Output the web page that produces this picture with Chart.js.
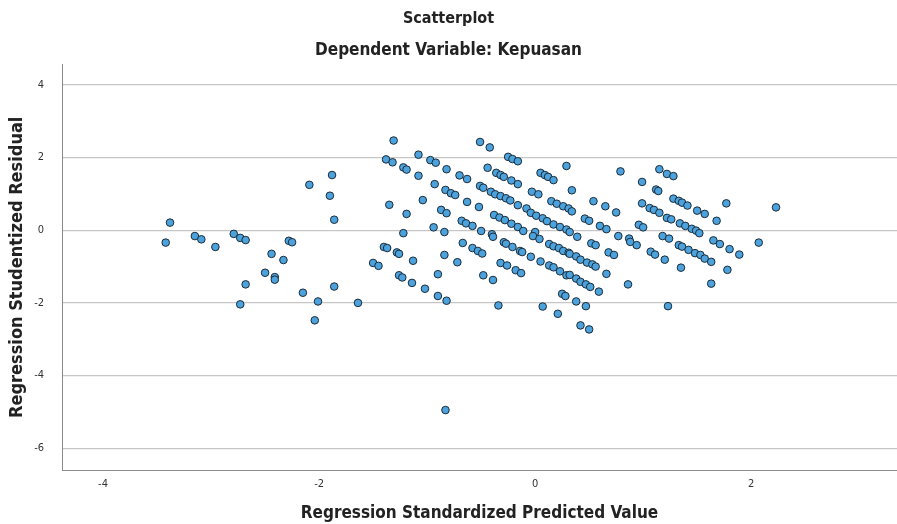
<!DOCTYPE html>
<html>
<head>
<meta charset="utf-8">
<script src="https://cdn.jsdelivr.net/npm/chart.js@4/dist/chart.umd.min.js"></script>
<style>
html,body{margin:0;padding:0;background:#fff;}
#c{display:block;}
</style>
</head>
<body>
<canvas id="c" width="897" height="524"></canvas>
<script>
const chartTitle = 'Scatterplot';
const chartSubtitle = 'Dependent Variable: Kepuasan';
const xAxisTitle = 'Regression Standardized Predicted Value';
const yAxisTitle = 'Regression Studentized Residual';
const xTicks = [-4, -2, 0, 2];
const yTicks = [-6, -4, -2, 0, 2, 4];

const predicted = [
-3.38,-3.42,-3.15,-3.09,-2.96,-2.79,-2.73,-2.68,-2.28,-2.25,-2.44,-2.33,-2.50,-2.41,-2.41,-2.68,-2.73,-2.15,-2.01,-2.04,-1.86,-1.64,-2.09,-1.88,-1.90,-1.86,
-1.31,-1.38,-1.32,-1.08,-0.97,-0.92,-1.22,-1.19,-1.08,-0.82,-0.70,-0.63,-0.93,-0.83,-0.78,-0.74,-0.63,-1.04,-1.35,-1.19,-0.87,-0.82,-0.68,-0.64,-0.94,-1.22,-0.84,
-0.67,-1.40,-1.37,-1.28,-1.26,-1.13,-0.84,-0.72,-1.50,-1.45,-1.26,-1.23,-1.14,-1.02,-0.90,-0.90,-0.82,
-0.83,
-0.51,-0.42,-0.25,-0.21,-0.16,0.29,-0.44,-0.36,-0.32,-0.29,-0.22,-0.16,0.05,0.09,0.12,0.17,-0.51,-0.48,-0.41,-0.37,-0.32,-0.27,-0.23,-0.16,-0.08,-0.03,0.03,0.15,0.20,0.26,0.31,
-0.52,-0.38,-0.33,-0.28,-0.22,-0.16,-0.04,0.01,0.07,0.11,0.17,0.23,0.29,-0.58,-0.50,-0.40,-0.11,0.00,
-0.39,-0.29,-0.27,-0.21,-0.14,-0.12,-0.02,0.04,0.13,0.17,0.22,0.26,0.31,-0.58,-0.53,-0.49,-0.04,0.05,0.13,0.17,0.23,0.29,-0.32,-0.26,-0.18,-0.13,-0.48,-0.39,0.25,0.28,-0.34,0.07,0.21,
0.79,1.15,1.22,0.99,1.12,1.14,0.34,0.54,0.65,0.75,0.99,1.06,1.10,1.15,1.22,0.34,0.46,0.50,0.60,0.66,0.77,0.87,0.96,1.00,1.18,0.32,0.39,
0.88,0.94,0.52,0.56,0.68,0.73,1.07,1.11,1.20,1.24,0.32,0.38,0.42,0.48,0.53,0.56,0.32,0.38,0.42,0.47,0.51,0.66,0.59,0.86,0.38,0.47,1.23,0.42,0.50,
1.28,1.28,1.33,1.36,1.41,1.50,1.57,1.77,1.68,2.23,1.26,1.34,1.39,1.45,1.49,1.52,1.33,1.36,1.42,1.48,1.53,1.57,1.63,1.65,1.71,1.80,1.89,2.07,1.35,1.78,1.63
];
const residual = [
0.21,-0.34,-0.16,-0.25,-0.46,-0.10,-0.21,-0.27,-0.29,-0.33,-0.65,-0.82,-1.17,-1.29,-1.36,-1.49,-2.04,-1.72,-1.96,-2.48,-1.55,-2.00,1.25,1.52,0.95,0.29,
2.47,1.95,1.87,2.08,1.93,1.86,1.73,1.67,1.50,1.68,1.51,1.41,1.27,1.11,1.02,0.97,0.78,0.83,0.70,0.45,0.56,0.47,0.26,0.19,0.08,-0.08,-0.05,
-0.35,-0.46,-0.49,-0.61,-0.65,-0.84,-0.68,-0.88,-0.90,-0.98,-1.24,-1.30,-1.45,-1.61,-1.21,-1.81,-1.94,
-4.95,
2.43,2.28,2.02,1.96,1.90,1.77,1.72,1.58,1.52,1.47,1.37,1.27,1.58,1.52,1.47,1.38,1.22,1.17,1.06,0.99,0.94,0.88,0.82,0.69,0.60,1.06,0.99,0.80,0.73,0.66,0.60,
0.64,0.42,0.35,0.28,0.18,0.09,0.48,0.40,0.33,0.25,0.16,0.09,0.02,0.12,-0.02,-0.11,-0.02,-0.05,
-0.18,-0.33,-0.37,-0.46,-0.57,-0.60,-0.16,-0.24,-0.38,-0.44,-0.49,-0.57,-0.62,-0.49,-0.57,-0.64,-0.73,-0.86,-0.97,-1.02,-1.13,-1.24,-0.90,-0.97,-1.10,-1.18,-1.24,-1.37,-1.75,-1.81,-2.07,-2.10,-2.30,
1.62,1.68,1.55,1.33,1.12,1.08,1.10,0.80,0.66,0.49,0.74,0.61,0.56,0.48,0.34,0.52,0.32,0.26,0.12,0.03,-0.16,-0.23,0.15,0.08,-0.16,-0.05,-0.18,
-0.32,-0.41,-0.36,-0.41,-0.61,-0.68,-0.59,-0.67,-0.81,-0.23,-0.65,-0.72,-0.81,-0.89,-0.94,-1.00,-1.23,-1.33,-1.42,-1.49,-1.56,-1.20,-1.69,-1.49,-1.96,-2.09,-2.09,-2.62,-2.73,
1.49,0.87,0.81,0.76,0.68,0.54,0.45,0.74,0.26,0.63,0.30,0.19,0.12,0.04,-0.01,-0.08,-0.41,-0.45,-0.54,-0.63,-0.68,-0.78,-0.87,-0.28,-0.38,-0.52,-0.67,-0.34,-1.03,-1.09,-1.47
];

const points = predicted.map((x, i) => ({x: x, y: residual[i]}));
const FONT = '"DejaVu Sans Condensed", "Liberation Sans Narrow", "Open Sans", sans-serif';

new Chart(document.getElementById('c'), {
  type: 'scatter',
  data: {
    datasets: [{
      data: points,
      pointRadius: 3.8,
      pointHoverRadius: 3.8,
      borderWidth: 1,
      backgroundColor: '#4ba2dc',
      borderColor: '#1b2b38'
    }]
  },
  options: {
    responsive: false,
    devicePixelRatio: 1,
    animation: false,
    layout: {autoPadding: false, padding: {left: 0, right: 0, top: 0, bottom: 0}},
    plugins: {
      legend: {display: false},
      tooltip: {enabled: false},
      title: {
        display: true,
        text: chartTitle,
        color: '#222',
        font: {family: FONT, size: 16, weight: 'bold', lineHeight: 1.2},
        padding: {top: 9, bottom: 5}
      },
      subtitle: {
        display: true,
        text: chartSubtitle,
        color: '#222',
        font: {family: FONT, size: 17, weight: 'bold', lineHeight: 1.2},
        padding: {top: 7, bottom: 4}
      }
    },
    scales: {
      x: {
        type: 'linear',
        min: -4.38,
        max: 3.35,
        afterBuildTicks: (s) => { s.ticks = xTicks.map(v => ({value: v})); },
        afterFit: (s) => { s.height = 54; s.paddingLeft = 0; s.paddingRight = 0; },
        grid: {display: false, drawTicks: false},
        border: {display: true, color: '#8a8a8a', width: 1},
        ticks: {color: '#333', padding: 8, font: {family: FONT, size: 11}},
        title: {
          display: true,
          text: xAxisTitle,
          color: '#222',
          font: {family: FONT, size: 17, weight: 'bold', lineHeight: 1.2},
          padding: {top: 2, bottom: 0}
        }
      },
      y: {
        type: 'linear',
        min: -6.6,
        max: 4.56,
        afterBuildTicks: (s) => { s.ticks = yTicks.map(v => ({value: v})); },
        afterFit: (s) => { s.width = 62; },
        grid: {display: true, drawTicks: false, color: '#c6c6c6', lineWidth: 1.2},
        border: {display: true, color: '#8a8a8a', width: 1},
        ticks: {color: '#333', padding: 18, font: {family: FONT, size: 11}},
        title: {
          display: true,
          text: yAxisTitle,
          color: '#222',
          font: {family: FONT, size: 18, weight: 'bold', lineHeight: 1.2},
          padding: {top: 7, bottom: 0}
        }
      }
    }
  }
});
</script>
</body>
</html>
